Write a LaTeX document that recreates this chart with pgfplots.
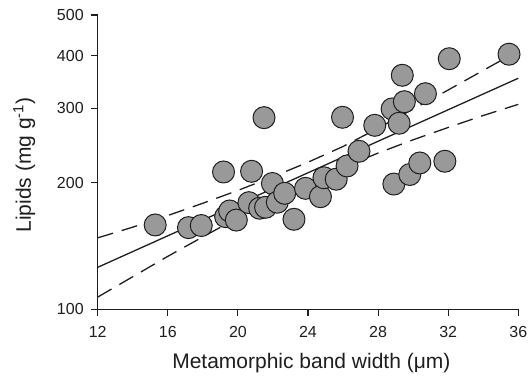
\documentclass[border=0pt]{standalone}
\usepackage{fontspec}
\setmainfont{Liberation Sans}
\usepackage{pgfplots}
\pgfplotsset{compat=1.18}
\definecolor{dotgray}{RGB}{153,153,153}
\definecolor{ink}{RGB}{30,30,30}
\begin{document}
\begin{tikzpicture}
\begin{axis}[
  scale only axis, width=420.6pt, height=294.3pt,
  xmin=12, xmax=36, ymin=100, ymax=500, ymode=log,
  axis x line=bottom, axis y line=left,
  axis line style={-, line width=1.2pt, ink},
  xtick={12,16,20,24,28,32,36},
  ytick={100,200,300,400,500}, yticklabels={100,200,300,400,500},
  yminorticks=false, xminorticks=false,
  tick align=outside, major tick length=6.5pt,
  tick style={line width=1.2pt, ink},
  /pgf/number format/assume math mode=true,
  ticklabel style={font=\fontsize{16}{19}\selectfont, text=ink},
  xticklabel style={yshift=-7pt},
  yticklabel style={xshift=-4pt},
  label style={font=\fontsize{21}{25}\selectfont, text=ink},
  xlabel={Metamorphic band width (μm)},
  ylabel={Lipids (mg g\textsuperscript{-1})},
  xlabel style={at={(axis description cs:0.508,-0.2005)}, anchor=base},
  ylabel style={at={(axis description cs:-0.1586,0.49)}, anchor=base},
  clip=false,
]
% regression line
\addplot[ink, line width=1.3pt] coordinates {(12,125.8) (36,353.8)};
% upper confidence band
\addplot[ink, line width=1.3pt, dash pattern=on 16pt off 9pt] coordinates {
(12,147.8) (14,156.7) (16,167.0) (18,178.6) (20,191.6) (22,206.4) (24,223.5)
(26,243.6) (28,269.2) (30,298.9) (32,331.8) (34,369.3) (36,411.0)};
% lower confidence band
\addplot[ink, line width=1.3pt, dash pattern=on 16pt off 9pt] coordinates {
(12,106.9) (14,119.5) (16,133.6) (18,148.6) (20,165.0) (22,181.9) (24,199.2)
(26,217.1) (28,235.0) (30,252.7) (32,270.3) (34,288.6) (36,306.7)};
% observations
\addplot[only marks, mark=*, mark size=11pt,
  mark options={fill=dotgray, draw=ink, line width=1pt}] coordinates {
(15.28,158.6) (17.18,156.3) (17.91,158.1) (19.18,211.9) (19.30,166.0)
(19.53,171.2) (19.91,162.9) (20.78,212.7) (20.63,179.2) (21.24,173.8)
(21.49,285.2) (21.58,174.7) (21.97,199.0) (22.25,179.6) (22.67,188.6)
(23.20,163.6) (23.86,193.8) (24.71,185.1) (24.91,205.3) (25.61,203.7)
(26.23,219.0) (25.97,285.8) (26.91,237.3) (27.81,273.5) (28.90,198.4)
(28.80,299.1) (29.20,276.6) (29.50,311.2) (29.38,359.6) (29.81,209.0)
(30.38,222.6) (30.70,325.1) (31.81,224.7) (32.06,393.7) (35.47,403.5)};
\end{axis}
\pgfresetboundingbox
\path[use as bounding box] (-97.7pt,-71.7pt) rectangle (432.3pt,309.3pt);
\end{tikzpicture}
\end{document}
